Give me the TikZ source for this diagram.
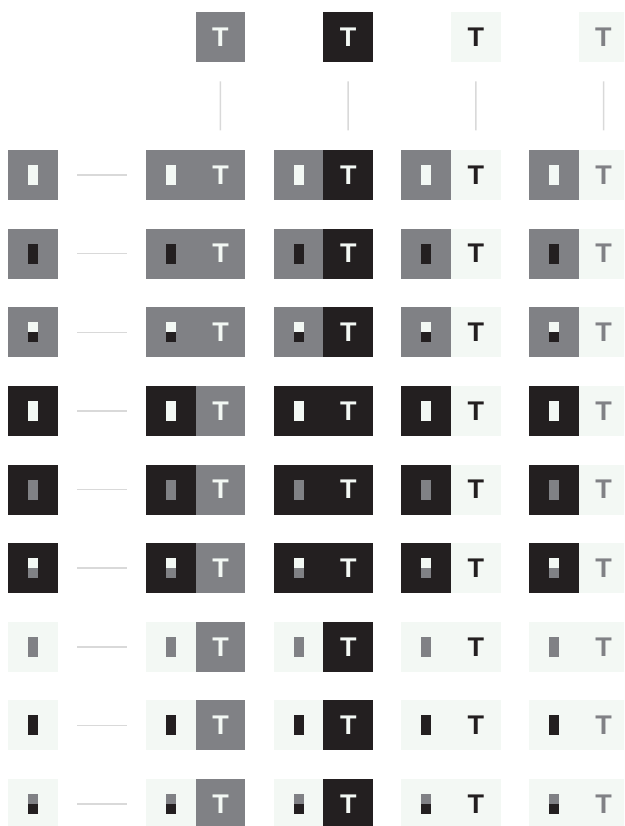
\documentclass[tikz,border=0pt]{standalone}
\usepackage{fontspec}
\setmainfont{Liberation Sans}
\definecolor{tilegray}{RGB}{128,129,133}
\definecolor{tiledark}{RGB}{35,31,32}
\definecolor{tilelight}{RGB}{243,248,244}
\definecolor{linkgray}{RGB}{217,217,217}
\usetikzlibrary{positioning}

% small bar inside a tile: upper half, lower half
\newcommand{\tilebar}[3]{%
  \fill[#2] ([shift={(-5,-10)}]#1.center) rectangle ([shift={(5,0)}]#1.center);
  \fill[#3] ([shift={(-5,0)}]#1.center) rectangle ([shift={(5,10)}]#1.center);
}

\begin{document}
\begin{tikzpicture}[
        x=1pt, y=-1pt,
        tile/.style={rectangle, minimum width=49.7pt, minimum height=50pt, inner sep=0pt, outer sep=0pt, font=\fontsize{27}{33}\selectfont\bfseries},
        link/.style={draw=linkgray, line width=1.5pt, shorten <=19.5pt, shorten >=19.5pt}
    ]
        \useasboundingbox (0,0) rectangle (624,826);
        \clip (0,0) rectangle (624,826);

        % Letter tiles on top
        \foreach \bg/\fg [count=\j] in {tilegray/tilelight, tiledark/tilelight, tilelight/tiledark, tilelight/tilegray} {
            \node[tile, fill=\bg, text=\fg, anchor=north west] (top\j) at ({195.5+127.7*(\j-1)},12) {T};
        }

        % Rows: single tile, then the tile joined to each letter tile
        \foreach \bg/\up/\lo [count=\i] in {
                tilegray/tilelight/tilelight, tilegray/tiledark/tiledark, tilegray/tilelight/tiledark,
                tiledark/tilelight/tilelight, tiledark/tilegray/tilegray, tiledark/tilelight/tilegray,
                tilelight/tilegray/tilegray, tilelight/tiledark/tiledark, tilelight/tilegray/tiledark} {
            \pgfmathsetmacro{\rowy}{150+78.625*(\i-1)}
            \node[tile, fill=\bg, anchor=north west] (sq\i) at (8,\rowy) {};
            \tilebar{sq\i}{\up}{\lo}
            \foreach \tbg/\tfg [count=\j] in {tilegray/tilelight, tiledark/tilelight, tilelight/tiledark, tilelight/tilegray} {
                \node[tile, fill=\bg, anchor=north west] (lt\i\j) at ({146+127.7*(\j-1)},\rowy) {};
                \node[tile, fill=\tbg, text=\tfg, right=0pt of lt\i\j] (rt\i\j) {T};
                \tilebar{lt\i\j}{\up}{\lo}
            }
            \draw[link] (sq\i) -- (lt\i1);
        }

        % Links from the letter tiles down
        \foreach \j in {1,...,4} {
            \draw[link] (top\j) -- (rt1\j);
        }
    \end{tikzpicture}
\end{document}
